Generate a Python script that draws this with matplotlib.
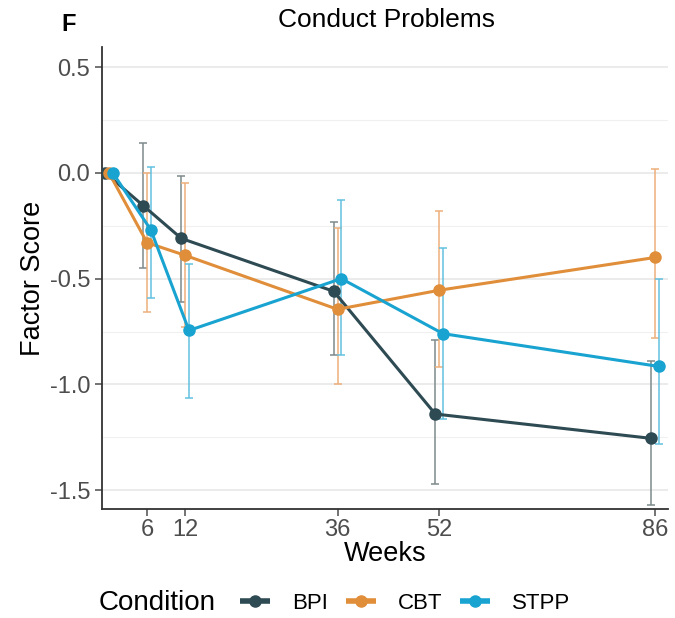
import numpy as np
import matplotlib.pyplot as plt
from matplotlib.lines import Line2D
from matplotlib.offsetbox import HPacker

plt.rcParams['font.family'] = ['Liberation Sans', 'DejaVu Sans']

weeks = [0, 6, 12, 36, 52, 86]
conditions = ["BPI", "CBT", "STPP"]

bpi = [0.0, -0.155, -0.31, -0.56, -1.14, -1.255]
bpi_lo = [0.0, -0.45, -0.61, -0.86, -1.47, -1.57]
bpi_hi = [0.0, 0.14, -0.015, -0.23, -0.79, -0.89]

cbt = [0.0, -0.33, -0.39, -0.645, -0.555, -0.40]
cbt_lo = [0.0, -0.66, -0.73, -1.00, -0.92, -0.78]
cbt_hi = [0.0, 0.0, -0.05, -0.26, -0.18, 0.02]

stpp = [0.0, -0.27, -0.745, -0.50, -0.76, -0.915]
stpp_lo = [0.0, -0.59, -1.065, -0.86, -1.165, -1.28]
stpp_hi = [0.0, 0.03, -0.43, -0.13, -0.355, -0.50]

colors = {"BPI": "#2E4A53", "CBT": "#E08E3A", "STPP": "#18A3D1"}
err_colors = {"BPI": "#7F8A8C", "CBT": "#EDB07A", "STPP": "#63C0E0"}
dodge = {"BPI": -0.6, "CBT": 0.0, "STPP": 0.6}

series = {
    "BPI": (bpi, bpi_lo, bpi_hi),
    "CBT": (cbt, cbt_lo, cbt_hi),
    "STPP": (stpp, stpp_lo, stpp_hi),
}

fig = plt.figure(figsize=(6.75, 6.18), dpi=100)
ax = fig.add_axes([0.1511, 0.176, 0.838, 0.748])

for c in conditions:
    y, lo, hi = [np.array(v) for v in series[c]]
    x = np.array(weeks) + dodge[c]
    ax.errorbar(x, y, yerr=[y - lo, hi - y], fmt="none", ecolor=err_colors[c],
                elinewidth=1.1, capsize=3, capthick=1.1, zorder=2)
for c in conditions:
    y = series[c][0]
    x = np.array(weeks) + dodge[c]
    ax.plot(x, y, "-o", color=colors[c], lw=2.2, ms=8, zorder=3)

ax.set_xticks([6, 12, 36, 52, 86])
ax.set_yticks([0.5, 0.0, -0.5, -1.0, -1.5])
ax.set_yticklabels(["0.5", "0.0", "-0.5", "-1.0", "-1.5"])
ax.set_yticks([0.25, -0.25, -0.75, -1.25], minor=True)
ax.set_xlim(-1.1, 88.0)
ax.set_ylim(-1.59, 0.595)
ax.grid(axis="y", which="major", color="#E6E6E6", lw=1.1)
ax.grid(axis="y", which="minor", color="#F0F0F0", lw=0.8)
ax.set_axisbelow(True)

for s in ["top", "right"]:
    ax.spines[s].set_visible(False)
for s in ["left", "bottom"]:
    ax.spines[s].set_color("#333333")
    ax.spines[s].set_linewidth(1.3)
ax.tick_params(axis="both", which="major", labelsize=17, colors="#4D4D4D",
               length=5, width=1.1)
ax.tick_params(axis="y", which="minor", length=0)
ax.tick_params(axis="x", pad=2)
for lbl in ax.get_xticklabels() + ax.get_yticklabels():
    lbl.set_color("#4D4D4D")

ax.set_xlabel("Weeks", fontsize=19.5, labelpad=0)
ax.set_ylabel("Factor Score", fontsize=19.5, labelpad=3)
fig.text(0.572, 0.968, "Conduct Problems", ha="center", va="center", fontsize=19)
fig.text(0.102, 0.96, "F", ha="center", va="center", fontsize=17, fontweight="bold")

handles = [Line2D([0], [0], color=colors[c], lw=4, marker="o", ms=8,
                  solid_capstyle="butt") for c in conditions]
leg = fig.legend(handles, conditions, loc="center", bbox_to_anchor=(0.496, 0.024),
                 ncol=3, frameon=False, fontsize=16, title="Condition",
                 handlelength=1.35, columnspacing=0.8, handletextpad=1.0)
leg.get_title().set_fontsize(20)
# put title inline with the entries
box = leg._legend_box
box._children = [HPacker(children=list(box.get_children()), align="center", pad=0, sep=17)]

fig.savefig("out.png", dpi=100)
